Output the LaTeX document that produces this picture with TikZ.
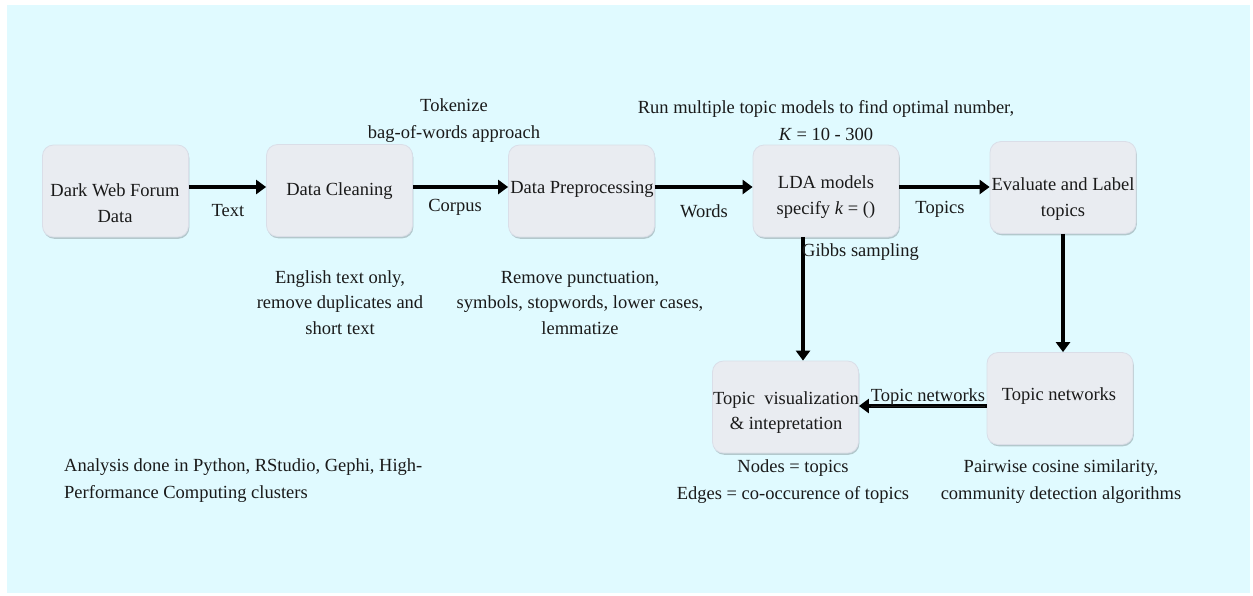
\documentclass[tikz,border=0pt]{standalone}
\usepackage{fontspec}
\setmainfont{Liberation Serif}
\usetikzlibrary{arrows.meta,shadows,calc}
\definecolor{bgcyan}{HTML}{E0FAFF}
\definecolor{boxfill}{HTML}{E9ECF1}
\definecolor{boxedge}{HTML}{DADEE8}
\definecolor{ink}{HTML}{1A1A1A}
\tikzset{
  stepbox/.style={rounded corners=11pt, fill=boxfill, draw=boxedge, line width=0.8pt,
    minimum width=146pt, minimum height=92pt, inner sep=0pt,
    drop shadow={shadow xshift=0.8pt, shadow yshift=-1.8pt, opacity=0.2, fill=black}},
  txt/.style={font=\fontsize{18.5}{25.5}\selectfont, text=ink, inner sep=0pt, align=center},
  txtwide/.style={font=\fontsize{18.5}{27}\selectfont, text=ink, inner sep=0pt, align=center},
  arr/.style={line width=3.5pt, draw=black, -{Triangle[length=10pt,width=14pt]}},
}
\begin{document}
\begin{tikzpicture}[x=1pt,y=-1pt]
\fill[white] (0,0) rectangle (1253,595);
\useasboundingbox (0,0) rectangle (1253,595);
\fill[bgcyan] (7,5) rectangle (1250,593);

% boxes
\node[stepbox] (dwf)   at (115.5,191)   {};
\node[stepbox] (clean) at (339.5,190.5) {};
\node[stepbox] (pre)   at (581.5,191)   {};
\node[stepbox] (lda)   at (826,191)     {};
\node[stepbox] (eval)  at (1063,187.5)  {};
\node[stepbox] (tnet)  at (1060,398.5)  {};
\node[stepbox] (tvis)  at (785.5,407)   {};

% box texts
\node[txt] (dwf-t)   at (115,203)    {Dark Web Forum\\Data};
\node[txt] (clean-t) at (339.5,191.5){Data Cleaning};
\node[txt] (pre-t)   at (582,189.5)  {Data Preprocessing};
\node[txt] (lda-t)   at (826,197)    {LDA models\\specify \textit{k} = ()};
\node[txt] (eval-t)  at (1063,199)   {Evaluate and Label\\topics};
\node[txt] (tnet-t)  at (1059,396.5) {Topic networks};
\node[txt] (tvis-t)  at (786,412.5)  {Topic\ \ visualization\\\&\ intepretation};

% connectors
\draw[arr] ([yshift=4pt]dwf.east) -- ([yshift=3.5pt]clean.west);
\draw[arr] ([yshift=3.5pt]clean.east) -- ([yshift=4pt]pre.west);
\draw[arr] ([yshift=4pt]pre.east) -- ([yshift=4pt]lda.west);
\draw[arr] ([yshift=4pt]lda.east) -- ([yshift=0.5pt]eval.west);
\draw[arr] (eval.south) -- (eval.south |- tnet.north);
\draw[arr] ([xshift=-23pt]lda.south) coordinate (ldas) -- (ldas |- tvis.north);
\draw[arr] ([yshift=-7.5pt]tnet.west) coordinate (tnw) -- (tvis.east |- tnw);

% connector labels
\node[txt] (l-text)   at (228,210.5)  {Text};
\node[txt] (l-corpus) at (455,207.5)  {Corpus};
\node[txt] (l-words)  at (704,211.5)  {Words};
\node[txt] (l-topics) at (940,209.5)  {Topics};
\node[txt, anchor=base] (l-tnet) at (928,401) {\underline{Topic networks}};
\node[txt, anchor=west] (l-gibbs) at (802,252.5) {Gibbs sampling};

% annotations
\node[txtwide] (n-tok) at (454,120.5) {Tokenize\\bag-of-words approach};
\node[txtwide] (n-run) at (826,120.5) {Run multiple topic models to find optimal number,\\\textit{K} = 10 - 300};
\node[txt] (n-eng) at (340,302.5) {English text only,\\remove duplicates and\\short text};
\node[txt] (n-rem) at (580,302.5) {Remove punctuation,\\symbols, stopwords, lower cases,\\lemmatize};
\node[txtwide, align=left, anchor=west] (n-ana) at (64,480.5) {Analysis done in Python, RStudio, Gephi, High-\\Performance Computing clusters};
\node[txtwide] (n-nodes) at (793,481.5) {Nodes = topics\\Edges = co-occurence of topics};
\node[txtwide] (n-pair) at (1061,481.5) {Pairwise cosine similarity,\\community detection algorithms};
\end{tikzpicture}
\end{document}
